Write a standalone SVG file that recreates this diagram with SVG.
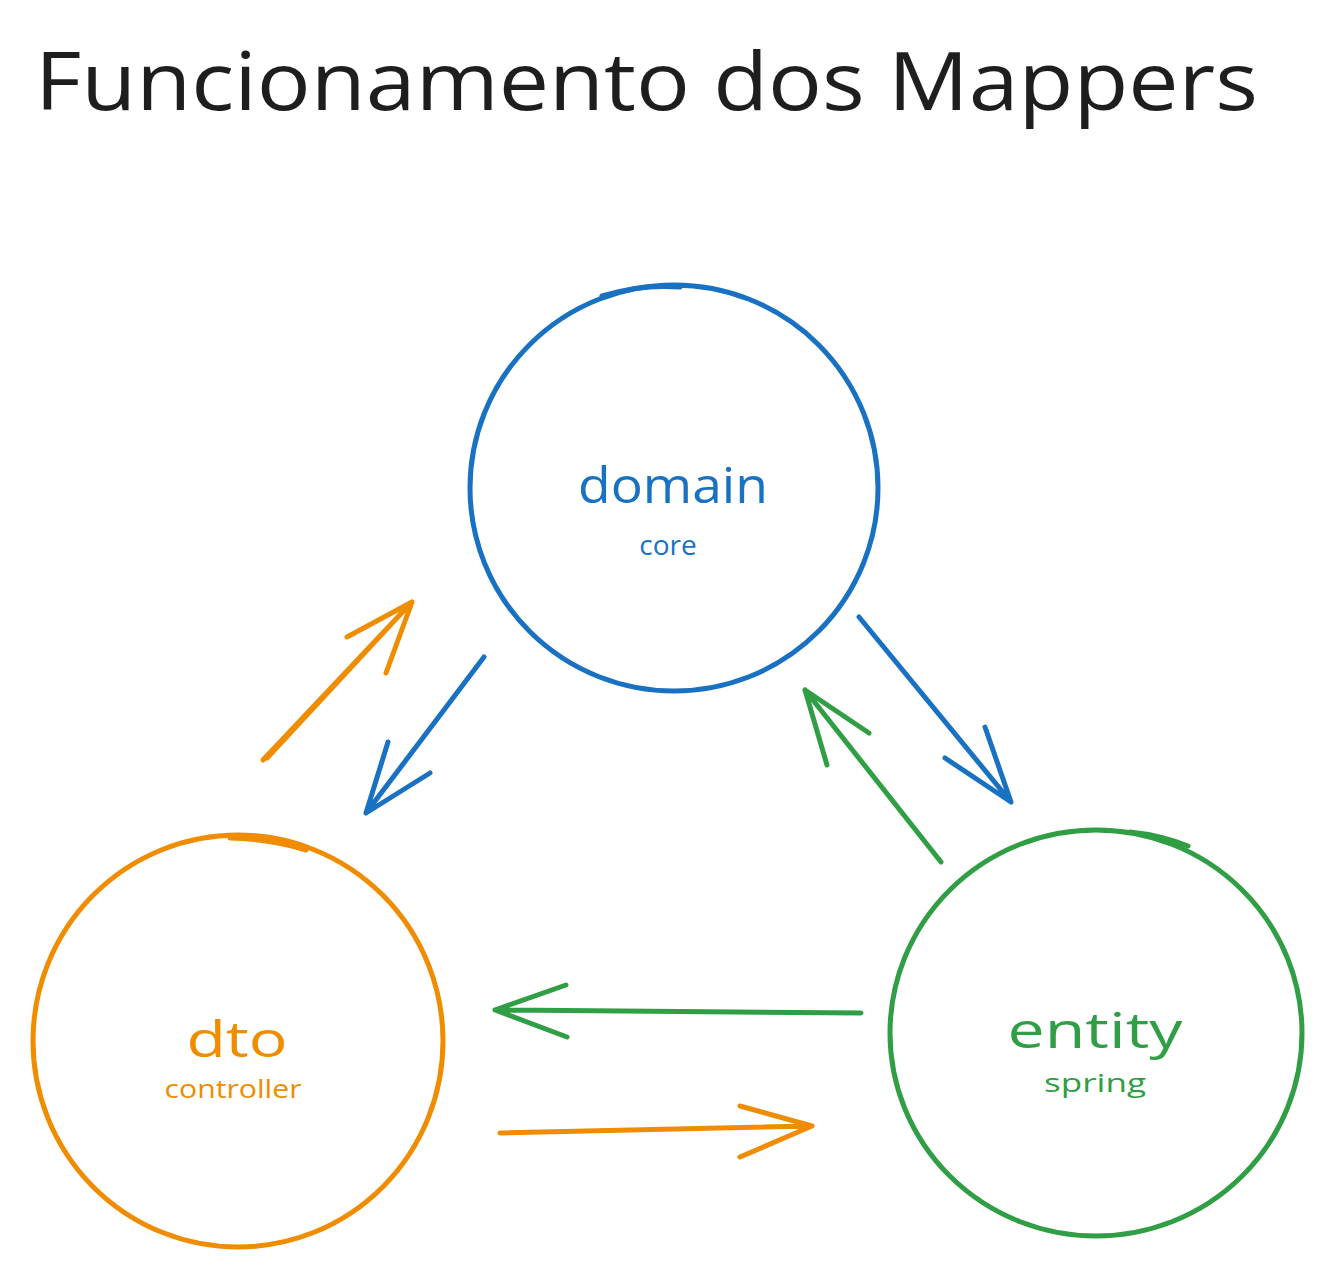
<svg xmlns="http://www.w3.org/2000/svg" width="1328" height="1274" viewBox="0 0 1328 1274">
<style>
.t{font-family:"Open Sans","Liberation Sans",sans-serif;}
.node{fill:none;stroke-width:5;stroke-linecap:round}
.c{fill:none;stroke-width:5;stroke-linecap:round;stroke-linejoin:round}
.blue{stroke:#1971c2}.orange{stroke:#f08c00}.green{stroke:#2f9e44}
</style>
<rect width="1328" height="1274" fill="#ffffff"/>
<text class="t" x="35" y="110" font-size="80" fill="#1e1e1e" textLength="1223" lengthAdjust="spacingAndGlyphs">Funcionamento dos Mappers</text>
<g id="domain">
<ellipse class="node blue" cx="674" cy="488" rx="204" ry="203"/>
<path class="node blue" d="M602 296 Q640 284 680 287" />
<text class="t" x="673" y="503" font-size="50" fill="#1971c2" text-anchor="middle" textLength="190" lengthAdjust="spacingAndGlyphs">domain</text>
<text class="t" x="668" y="555" font-size="28" fill="#1971c2" text-anchor="middle">core</text>
</g>
<g id="dto">
<ellipse class="node orange" cx="238" cy="1041" rx="205" ry="206"/>
<path class="node orange" d="M230 838 Q270 839 306 850" />
<text class="t" x="237" y="1057" font-size="50" fill="#f08c00" text-anchor="middle" textLength="101" lengthAdjust="spacingAndGlyphs">dto</text>
<text class="t" x="233" y="1098" font-size="26" fill="#f08c00" text-anchor="middle" textLength="137" lengthAdjust="spacingAndGlyphs">controller</text>
</g>
<g id="entity">
<ellipse class="node green" cx="1096" cy="1033" rx="206" ry="203"/>
<path class="node green" d="M1130 832 Q1160 835 1188 846" />
<text class="t" x="1095" y="1048" font-size="50" fill="#2f9e44" text-anchor="middle" textLength="175" lengthAdjust="spacingAndGlyphs">entity</text>
<text class="t" x="1095" y="1092" font-size="26" fill="#2f9e44" text-anchor="middle" textLength="102" lengthAdjust="spacingAndGlyphs">spring</text>
</g>
<g id="connectors">
<path class="c orange" d="M263 760 L412 602 M267 758 L408 606 M347 637 L412 602 M386 673 L412 602"/>
<path class="c blue" d="M484 657 L366 813 M388 742 L366 813 M430 773 L366 813"/>
<path class="c blue" d="M859 617 L1011 802 M985 727 L1011 802 M945 758 L1011 802"/>
<path class="c green" d="M941 862 L805 690 M827 765 L805 690 M869 733 L805 690"/>
<path class="c green" d="M861 1013 L495 1010 M566 985 L495 1010 M567 1037 L495 1010"/>
<path class="c orange" d="M500 1133 L812 1126 M740 1106 L812 1126 M740 1157 L812 1126"/>
</g>
</svg>
